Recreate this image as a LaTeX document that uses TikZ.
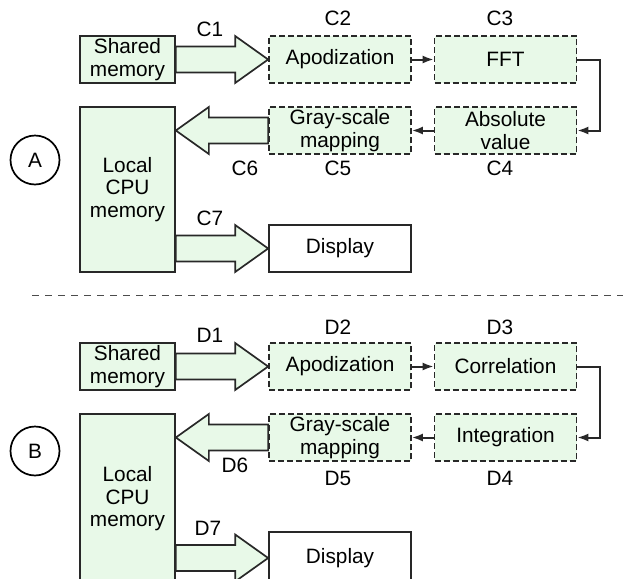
\documentclass[tikz,border=0pt]{standalone}
\usepackage{fontspec}
\setmainfont{Liberation Sans}
\usetikzlibrary{calc,backgrounds,arrows.meta}
\definecolor{mint}{RGB}{232,249,232}
\definecolor{edge}{RGB}{40,40,40}

\begin{document}
\begin{tikzpicture}[x=0.5pt,y=-0.5pt]
  \tikzset{ box/.style={rectangle,draw=edge,line width=0.85pt,inner sep=0pt,minimum width=47.5pt,minimum height=23.5pt,align=center,font=\fontsize{10.4}{11.3}\selectfont},
    mem/.style={box,fill=mint},
    proc/.style={box,fill=mint,dash pattern=on 3pt off 1.5pt,minimum width=71pt},
    dispbox/.style={box,fill=white,minimum width=71pt},
    tag/.style={circle,draw,line width=0.85pt,minimum size=24.5pt,inner sep=0pt,font=\fontsize{10.4}{12}\selectfont},
    lbl/.style={inner sep=0pt,font=\fontsize{10.4}{12}\selectfont},
    link/.style={-{Latex[length=5.5pt,width=4pt]},edge,line width=1pt},
    fat/.style={draw=edge,line width=0.85pt,fill=mint,line join=miter,
      to path={($(\tikztostart)!6.5pt!90:(\tikztotarget)$)
        -- ($(\tikztotarget)!16.5pt!(\tikztostart)!6.5pt!-90:(\tikztostart)$)
        -- ($(\tikztotarget)!16.5pt!(\tikztostart)!11.75pt!-90:(\tikztostart)$)
        -- (\tikztotarget)
        -- ($(\tikztotarget)!16.5pt!(\tikztostart)!11.75pt!90:(\tikztostart)$)
        -- ($(\tikztotarget)!16.5pt!(\tikztostart)!6.5pt!90:(\tikztostart)$)
        -- ($(\tikztostart)!6.5pt!-90:(\tikztotarget)$) -- cycle}},
  }
  \useasboundingbox (0,0) rectangle (623,579);

  % panel A
  \node[tag] (ta) at (35, 160) {A};
  \node[mem] (sm) at (127.5, 59.5) {Shared\\memory};
  \node[proc] (apo) at (340, 59.5) {Apodization};
  \node[proc] (fft) at (505.5, 59.5) {FFT};
  \node[proc] (abs) at (505.5, 130.5) {Absolute\\value};
  \node[proc] (gs) at (340, 130.5) {Gray-scale\\mapping};
  \node[mem, minimum height=82.5pt] (cpu) at (127.5, 189.5) {Local\\CPU\\memory};
  \node[dispbox] (disp) at (340, 248.5) {Display};
  \coordinate (c6) at (cpu.east |- gs.west);
  \coordinate (c7) at (cpu.east |- disp.west);

  \node[lbl] at (210, 29) {C1};
  \node[lbl] at (338, 18) {C2};
  \node[lbl] at (500, 18) {C3};
  \node[lbl] at (500, 168) {C4};
  \node[lbl] at (338, 168) {C5};
  \node[lbl] at (245, 168) {C6};
  \node[lbl] at (210, 218) {C7};

  % the connection between the blocks
  \begin{scope}[on background layer]
    \draw[fat] (sm.east) to (apo.west);
    \draw[fat] (gs.west) to (c6);
    \draw[fat] (c7) to (disp.west);
  \end{scope}
  \draw[link] (apo) -- (fft);
  \draw[link] (fft.east) -- ++(23,0) |- (abs.east);
  \draw[link] (abs) -- (gs);

  % separator
  \draw[gray!60!black, line width=0.85pt, dash pattern=on 3.5pt off 3pt] (32, 295.5) -- (623, 295.5);

  % panel B
  \node[tag] (tb) at (35, 451) {B};
  \node[mem] (sm2) at (127.5, 366.5) {Shared\\memory};
  \node[proc] (apo2) at (340, 366.5) {Apodization};
  \node[proc] (cor) at (505.5, 366.5) {Correlation};
  \node[proc] (int) at (505.5, 437.5) {Integration};
  \node[proc] (gs2) at (340, 437.5) {Gray-scale\\mapping};
  \node[mem, minimum height=85pt] (cpu2) at (127.5, 499) {Local\\CPU\\memory};
  \node[dispbox, minimum height=26pt] (disp2) at (340, 558) {Display};
  \coordinate (d6) at (cpu2.east |- gs2.west);
  \coordinate (d7) at (cpu2.east |- disp2.west);

  \node[lbl] at (210, 335) {D1};
  \node[lbl] at (338, 327) {D2};
  \node[lbl] at (500, 327) {D3};
  \node[lbl] at (500, 478) {D4};
  \node[lbl] at (338, 478) {D5};
  \node[lbl] at (235, 465) {D6};
  \node[lbl] at (208, 528) {D7};

  \begin{scope}[on background layer]
    \draw[fat] (sm2.east) to (apo2.west);
    \draw[fat] (gs2.west) to (d6);
    \draw[fat] (d7) to (disp2.west);
  \end{scope}
  \draw[link] (apo2) -- (cor);
  \draw[link] (cor.east) -- ++(23,0) |- (int.east);
  \draw[link] (int) -- (gs2);
\end{tikzpicture}
\end{document}
